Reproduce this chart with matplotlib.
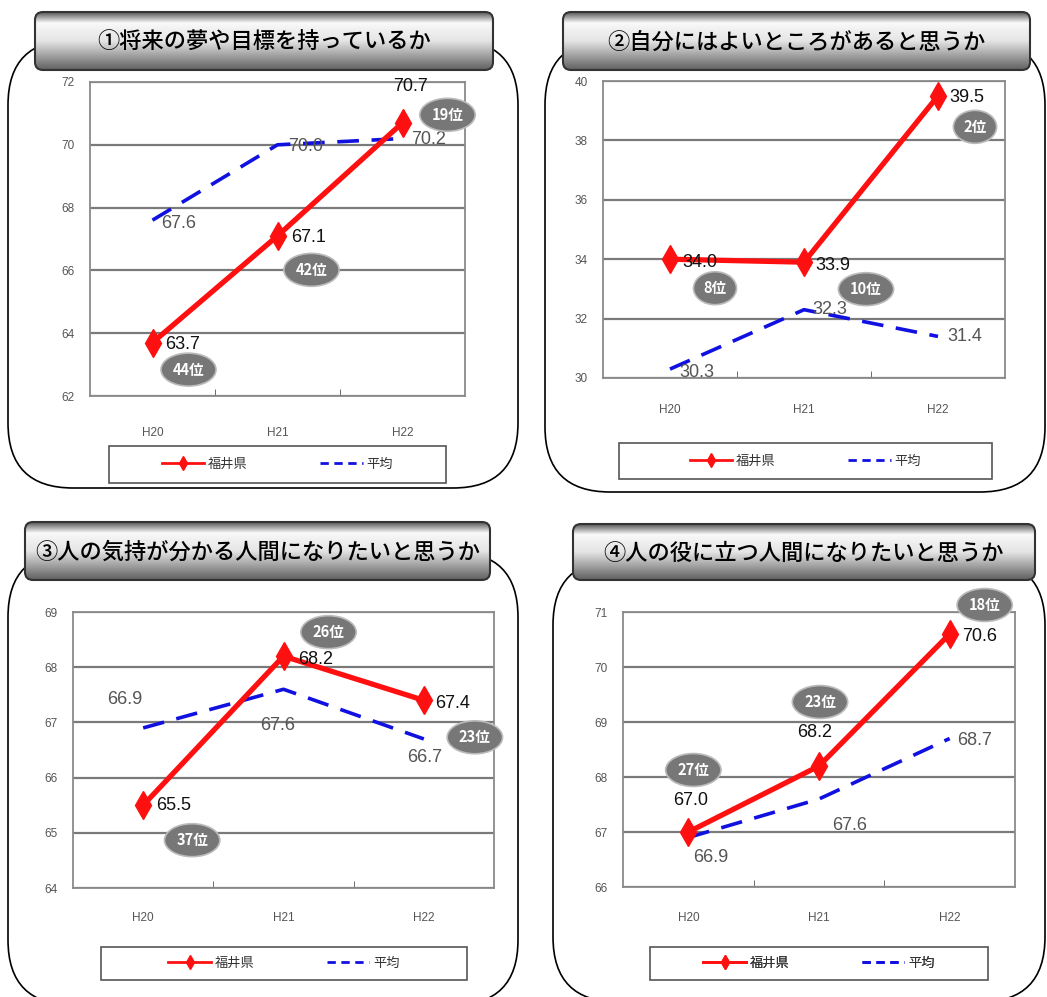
import numpy as np
import matplotlib
matplotlib.use("Agg")
import matplotlib.pyplot as plt
from matplotlib.patches import FancyBboxPatch, Rectangle
from matplotlib.lines import Line2D

plt.rcParams["font.family"] = ["Noto Sans CJK JP", "DejaVu Sans"]
NUM_FONT = ["Liberation Sans Narrow", "Liberation Sans", "DejaVu Sans"]

# データ
years = ["H20", "H21", "H22"]
titles = [
    "①将来の夢や目標を持っているか",
    "②自分にはよいところがあると思うか",
    "③人の気持が分かる人間になりたいと思うか",
    "④人の役に立つ人間になりたいと思うか",
]
fukui_1 = [63.7, 67.1, 70.7]
avg_1 = [67.6, 70.0, 70.2]
rank_1 = ["44位", "42位", "19位"]

fukui_2 = [34.0, 33.9, 39.5]
avg_2 = [30.3, 32.3, 31.4]
rank_2 = ["8位", "10位", "2位"]

fukui_3 = [65.5, 68.2, 67.4]
avg_3 = [66.9, 67.6, 66.7]
rank_3 = ["37位", "26位", "23位"]

fukui_4 = [67.0, 68.2, 70.6]
avg_4 = [66.9, 67.6, 68.7]
rank_4 = ["27位", "23位", "18位"]

y_ranges = [(62, 72, 2), (30, 40, 2), (64, 69, 1), (66, 71, 1)]

# レイアウト（ピクセル）
W, H = 1047, 997
panels = [
    dict(frame=(8, 40, 518, 488), banner=(35, 12, 493, 70), plot=(90, 82, 465, 396),
         xlab=433, legend=(109, 446, 446, 483),
         f_off=[(30, 2), (31, 2), (8, -36)], a_off=[(26, 3), (28, 2), (26, 1)],
         r_off=[(36, 27), (34, 34), (45, -8)]),
    dict(frame=(545, 40, 1045, 492), banner=(563, 12, 1030, 70), plot=(603, 81, 1005, 378),
         xlab=410, legend=(619, 443, 992, 479),
         f_off=[(30, 3), (29, 3), (29, 2)], a_off=[(27, 3), (26, 0), (27, 0)],
         r_off=[(45, 29), (62, 27), (37, 31)]),
    dict(frame=(8, 552, 518, 1005), banner=(25, 522, 490, 580), plot=(73, 612, 494, 888),
         xlab=918, legend=(101, 947, 467, 980),
         f_off=[(30, 0), (32, 3), (29, 3)], a_off=[(-18, -28), (-6, 36), (1, 19)],
         r_off=[(49, 35), (45, -24), (51, 37)]),
    dict(frame=(553, 560, 1045, 1002), banner=(573, 524, 1035, 580), plot=(623, 612, 1015, 887),
         xlab=918, legend=(650, 947, 988, 980),
         f_off=[(2, -32), (-4, -34), (30, 2)], a_off=[(22, 20), (31, 26), (25, 2)],
         r_off=[(5, -62), (1, -64), (35, -29)]),
]
series = [(fukui_1, avg_1, rank_1), (fukui_2, avg_2, rank_2),
          (fukui_3, avg_3, rank_3), (fukui_4, avg_4, rank_4)]

fig = plt.figure(figsize=(W / 100, H / 100), dpi=100)
bg = fig.add_axes([0, 0, 1, 1])
bg.set_xlim(0, W)
bg.set_ylim(H, 0)
bg.axis("off")

# バナー用グラデーション
grad = np.concatenate([np.linspace(0.35, 0.97, 12), np.linspace(0.97, 0.9, 18),
                       np.linspace(0.9, 0.38, 32)])
grad_img = np.tile(grad[:, None], (1, 4))


def pix_rect(x0, y0, x1, y1):
    return [x0 / W, 1 - y1 / H, (x1 - x0) / W, (y1 - y0) / H]


x = np.arange(len(years))
for p, (fukui, avg, rank), title, (ymin, ymax, ystep) in zip(panels, series, titles, y_ranges):
    # 外枠
    fx0, fy0, fx1, fy1 = p["frame"]
    bg.add_patch(FancyBboxPatch((fx0, fy0), fx1 - fx0, fy1 - fy0,
                                boxstyle="round,pad=0,rounding_size=65",
                                fc="white", ec="black", lw=1.2, zorder=1))
    # タイトルバナー
    bx0, by0, bx1, by1 = p["banner"]
    clip = FancyBboxPatch((bx0, by0), bx1 - bx0, by1 - by0,
                          boxstyle="round,pad=0,rounding_size=8",
                          fc="none", ec="#333333", lw=1.5, zorder=3)
    bg.add_patch(clip)
    im = bg.imshow(grad_img, cmap="gray", vmin=0, vmax=1, aspect="auto",
                   extent=(bx0, bx1, by1, by0), zorder=2, interpolation="bilinear")
    im.set_clip_path(clip)
    bg.text((bx0 + bx1) / 2, (by0 + by1) / 2 + 1, title, ha="center", va="center",
            fontsize=16, fontweight="medium", color="black", zorder=4)

    # グラフ本体
    px0, py0, px1, py1 = p["plot"]
    ax = fig.add_axes(pix_rect(px0, py0, px1, py1))
    ax.set_facecolor("white")
    ax.set_xlim(-0.5, 2.5)
    ax.set_ylim(ymin, ymax)
    ax.set_yticks(np.arange(ymin, ymax + 0.01, ystep))
    ax.yaxis.grid(True, color="#7a7a7a", lw=1.6)
    ax.set_axisbelow(True)
    for s in ax.spines.values():
        s.set_color("#8a8a8a")
        s.set_linewidth(1.3)
    ax.set_xticks(x)
    ax.set_xticklabels(years)
    ax.set_xticks([0.5, 1.5], minor=True)
    ax.tick_params(axis="x", which="major", length=0,
                   pad=(p["xlab"] - 6 - py1) * 0.72, labelsize=8.5, labelcolor="#555555")
    ax.tick_params(axis="x", which="minor", direction="in", length=5, color="#555555")
    ax.tick_params(axis="y", length=0, pad=11, labelsize=8.5, labelcolor="#555555")
    for lab in ax.get_xticklabels() + ax.get_yticklabels():
        lab.set_family(NUM_FONT)

    ax.plot(x, avg, color="#1010e0", lw=2.6, dashes=(6, 3.5), zorder=3, clip_on=False)
    ax.plot(x, fukui, color="#ff1010", lw=3.8, marker="d", ms=14, zorder=4, clip_on=False)

    for i in range(len(years)):
        dx, dy = p["f_off"][i]
        ax.annotate(f"{fukui[i]:.1f}", (x[i], fukui[i]), xytext=(dx, -dy),
                    textcoords="offset pixels", ha="center", va="center",
                    fontsize=13, color="#111111", family=NUM_FONT, zorder=6)
        dx, dy = p["a_off"][i]
        ax.annotate(f"{avg[i]:.1f}", (x[i], avg[i]), xytext=(dx, -dy),
                    textcoords="offset pixels", ha="center", va="center",
                    fontsize=13, color="#555555", family=NUM_FONT, zorder=6)
        dx, dy = p["r_off"][i]
        ax.annotate(rank[i], (x[i], fukui[i]), xytext=(dx, -dy),
                    textcoords="offset pixels", ha="center", va="center",
                    fontsize=10.5, fontweight="bold", color="white", zorder=7,
                    bbox=dict(boxstyle="ellipse,pad=0.25", fc="#777777", ec="#bbbbbb", lw=1.2))

    # 凡例
    lx0, ly0, lx1, ly1 = p["legend"]
    bg.add_patch(Rectangle((lx0, ly0), lx1 - lx0, ly1 - ly0, fc="white",
                           ec="#555555", lw=1.2, zorder=3))
    handles = [Line2D([], [], color="#ff1010", lw=2, marker="d", ms=7),
               Line2D([], [], color="#1010e0", lw=2, dashes=(3, 2))]
    leg = bg.legend(handles, ["福井県", "平均"], loc="center",
                    bbox_to_anchor=((lx0 + lx1) / 2 / W, 1 - (ly0 + ly1) / 2 / H),
                    bbox_transform=fig.transFigure, ncol=2, frameon=False,
                    columnspacing=5.5, handlelength=3.2, handletextpad=0.3, fontsize=9.5)
    for t in leg.get_texts():
        t.set_color("#333333")
    leg.set_zorder(5)
    bg.add_artist(leg)

fig.savefig("out.png", dpi=100)
